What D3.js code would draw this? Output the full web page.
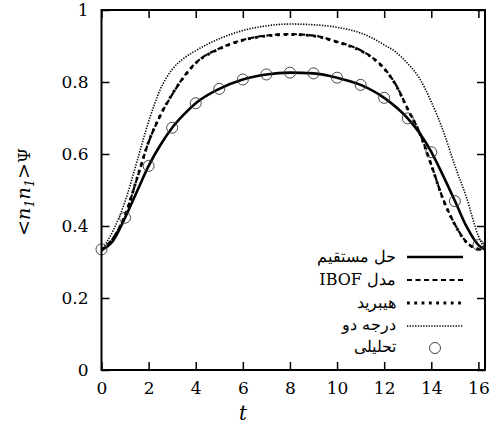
<!DOCTYPE html>
<html><head><meta charset="utf-8">
<script src="https://cdn.jsdelivr.net/npm/d3@7"></script>
<style>body{margin:0;background:#fff} svg text{font-family:"DejaVu Serif","Liberation Serif","Times New Roman",Times,serif !important;}</style>
</head><body>
<svg id="c" width="490" height="432"></svg>
<script>
// ---- data ----
const xTicks = [0,2,4,6,8,10,12,14,16];
const yTicks = [0,0.2,0.4,0.6,0.8,1];
const legendLabels = ["حل مستقیم","مدل IBOF","هیبرید","درجه دو","تحلیلی"];

const tDirect = [0,0.5,1,1.5,2,2.5,3,3.5,4,5,6,7,8,9,10,11,12,13,13.5,14,14.5,15,15.5,16,16.28];
const direct  = [0.333,0.36,0.423,0.495,0.567,0.625,0.673,0.71,0.741,0.781,0.807,0.821,0.826,0.824,0.812,0.792,0.756,0.699,0.658,0.606,0.54,0.47,0.398,0.347,0.335];

const tIbof = [0,0.5,1,1.5,2,2.5,3,3.5,4,5,6,7,8,9,10,11,11.5,12,12.5,13,13.5,14,14.5,15,15.5,16,16.28];
const ibof  = [0.333,0.367,0.43,0.53,0.633,0.707,0.765,0.815,0.853,0.893,0.917,0.929,0.933,0.929,0.912,0.888,0.868,0.838,0.792,0.725,0.66,0.57,0.475,0.405,0.355,0.336,0.334];

const tHybrid = [0,0.5,1,1.5,2,2.5,3,3.5,4,5,6,7,8,9,10,11,11.5,12,12.5,13,13.5,14,14.5,15,15.5,16,16.28];
const hybrid  = [0.333,0.366,0.429,0.531,0.634,0.708,0.766,0.814,0.852,0.892,0.916,0.928,0.932,0.928,0.911,0.887,0.867,0.837,0.791,0.724,0.659,0.569,0.474,0.404,0.354,0.336,0.334];

const tQuad = [0,0.5,1,1.5,2,2.5,3,3.5,4,5,6,7,8,9,10,11,11.5,12,12.5,13,13.5,14,14.5,15,15.5,16,16.28];
const quad  = [0.333,0.388,0.468,0.578,0.69,0.78,0.835,0.866,0.887,0.92,0.943,0.956,0.961,0.959,0.952,0.936,0.922,0.903,0.883,0.851,0.81,0.745,0.665,0.568,0.478,0.372,0.335];

const tAnalytic = [0,1,2,3,4,5,6,7,8,9,10,11,12,13,14,15,16];
const analytic  = [0.335,0.423,0.567,0.673,0.741,0.781,0.807,0.821,0.826,0.824,0.812,0.792,0.756,0.699,0.605,0.469,0.347];

// ---- layout ----
const svg = d3.select("#c");
const L=101.5, R=485, T=10, B=370;
const x = d3.scaleLinear().domain([0,16.28]).range([L,R]);
const y = d3.scaleLinear().domain([0,1]).range([B,T]);
const tickLen = 8;

function styleTicks(a, withText){
  a.attr("font-family",null).attr("font-size",null);
  a.select(".domain").remove();
  a.selectAll("line").attr("stroke","#000").attr("stroke-width",1.5);
  if(withText) a.selectAll("text").style("font-size","17px").attr("fill","#000");
}
const g = svg.append("g");
g.append("g").attr("transform",`translate(0,${B})`)
  .call(d3.axisBottom(x).tickValues(xTicks).tickSize(-tickLen).tickPadding(12).tickFormat(d3.format("d")))
  .call(a=>styleTicks(a,true));
g.append("g").attr("transform",`translate(0,${T})`)
  .call(d3.axisTop(x).tickValues(xTicks).tickSize(-tickLen).tickFormat(""))
  .call(a=>styleTicks(a,false));
g.append("g").attr("transform",`translate(${L},0)`)
  .call(d3.axisLeft(y).tickValues(yTicks).tickSize(-tickLen).tickPadding(13).tickFormat(d=>d===0||d===1?d3.format("d")(d):d3.format(".1f")(d)))
  .call(a=>styleTicks(a,true));
g.append("g").attr("transform",`translate(${R},0)`)
  .call(d3.axisRight(y).tickValues(yTicks).tickSize(-tickLen).tickFormat(""))
  .call(a=>styleTicks(a,false));

// curves
const line = d3.line().curve(d3.curveMonotoneX);
function pts(ts,vs){return ts.map((t,i)=>[x(t),y(vs[i])]);}
const styles = [
  {data:pts(tQuad,quad), w:1.6, dash:"1.3,1.4"},
  {data:pts(tIbof,ibof), w:2.2, dash:"5,3.5"},
  {data:pts(tHybrid,hybrid), w:2.8, dash:"2.8,4.5"},
  {data:pts(tDirect,direct), w:2.6, dash:null}
];
styles.forEach(s=>{
  svg.append("path").attr("d",line(s.data)).attr("fill","none").attr("stroke","#000")
    .attr("stroke-width",s.w).attr("stroke-dasharray",s.dash);
});
svg.selectAll("circle.an").data(tAnalytic).join("circle").attr("class","an")
  .attr("cx",d=>x(d)).attr("cy",(d,i)=>y(analytic[i])).attr("r",5.5)
  .attr("fill","none").attr("stroke","#333").attr("stroke-width",0.9);

// frame
svg.append("rect").attr("x",L).attr("y",T).attr("width",R-L).attr("height",B-T)
  .attr("fill","none").attr("stroke","#000").attr("stroke-width",2);

// legend
const legRows = [257,280,303,326];
const legStyles = [{w:2.6,dash:null},{w:2.2,dash:"5,3.5"},{w:2.8,dash:"2.8,4.5"},{w:1.6,dash:"1.3,1.4"}];
legRows.forEach((ry,i)=>{
  svg.append("line").attr("x1",407).attr("x2",463).attr("y1",ry).attr("y2",ry)
    .attr("stroke","#000").attr("stroke-width",legStyles[i].w).attr("stroke-dasharray",legStyles[i].dash);
});
const legTextY = [256,279,302,324,346];
legendLabels.forEach((s,i)=>{
  svg.append("text").attr("x",396).attr("y",legTextY[i]).attr("dy","0.35em")
    .attr("text-anchor","end").style("font-size","16px").attr("fill","#000")
    .text("\u202B"+s+"\u202C");
});
svg.append("circle").attr("cx",435).attr("cy",348).attr("r",5.5)
  .attr("fill","none").attr("stroke","#333").attr("stroke-width",0.9);

// axis labels
svg.append("text").attr("x",243).attr("y",420).attr("text-anchor","middle")
  .style("font-size","20px").attr("font-style","italic").text("t");
const yl = svg.append("text").attr("transform","translate(30,192) rotate(-90)")
  .attr("text-anchor","middle").style("font-size","19px");
yl.append("tspan").text("<");
yl.append("tspan").attr("font-style","italic").text("n");
yl.append("tspan").attr("font-style","italic").style("font-size","13px").attr("dy",4).text("1");
yl.append("tspan").attr("font-style","italic").attr("dy",-4).text("n");
yl.append("tspan").attr("font-style","italic").style("font-size","13px").attr("dy",4).text("1");
yl.append("tspan").attr("dy",-4).text(">");
yl.append("tspan").style("font-size","17px").text("Ψ");
</script>
</body></html>
